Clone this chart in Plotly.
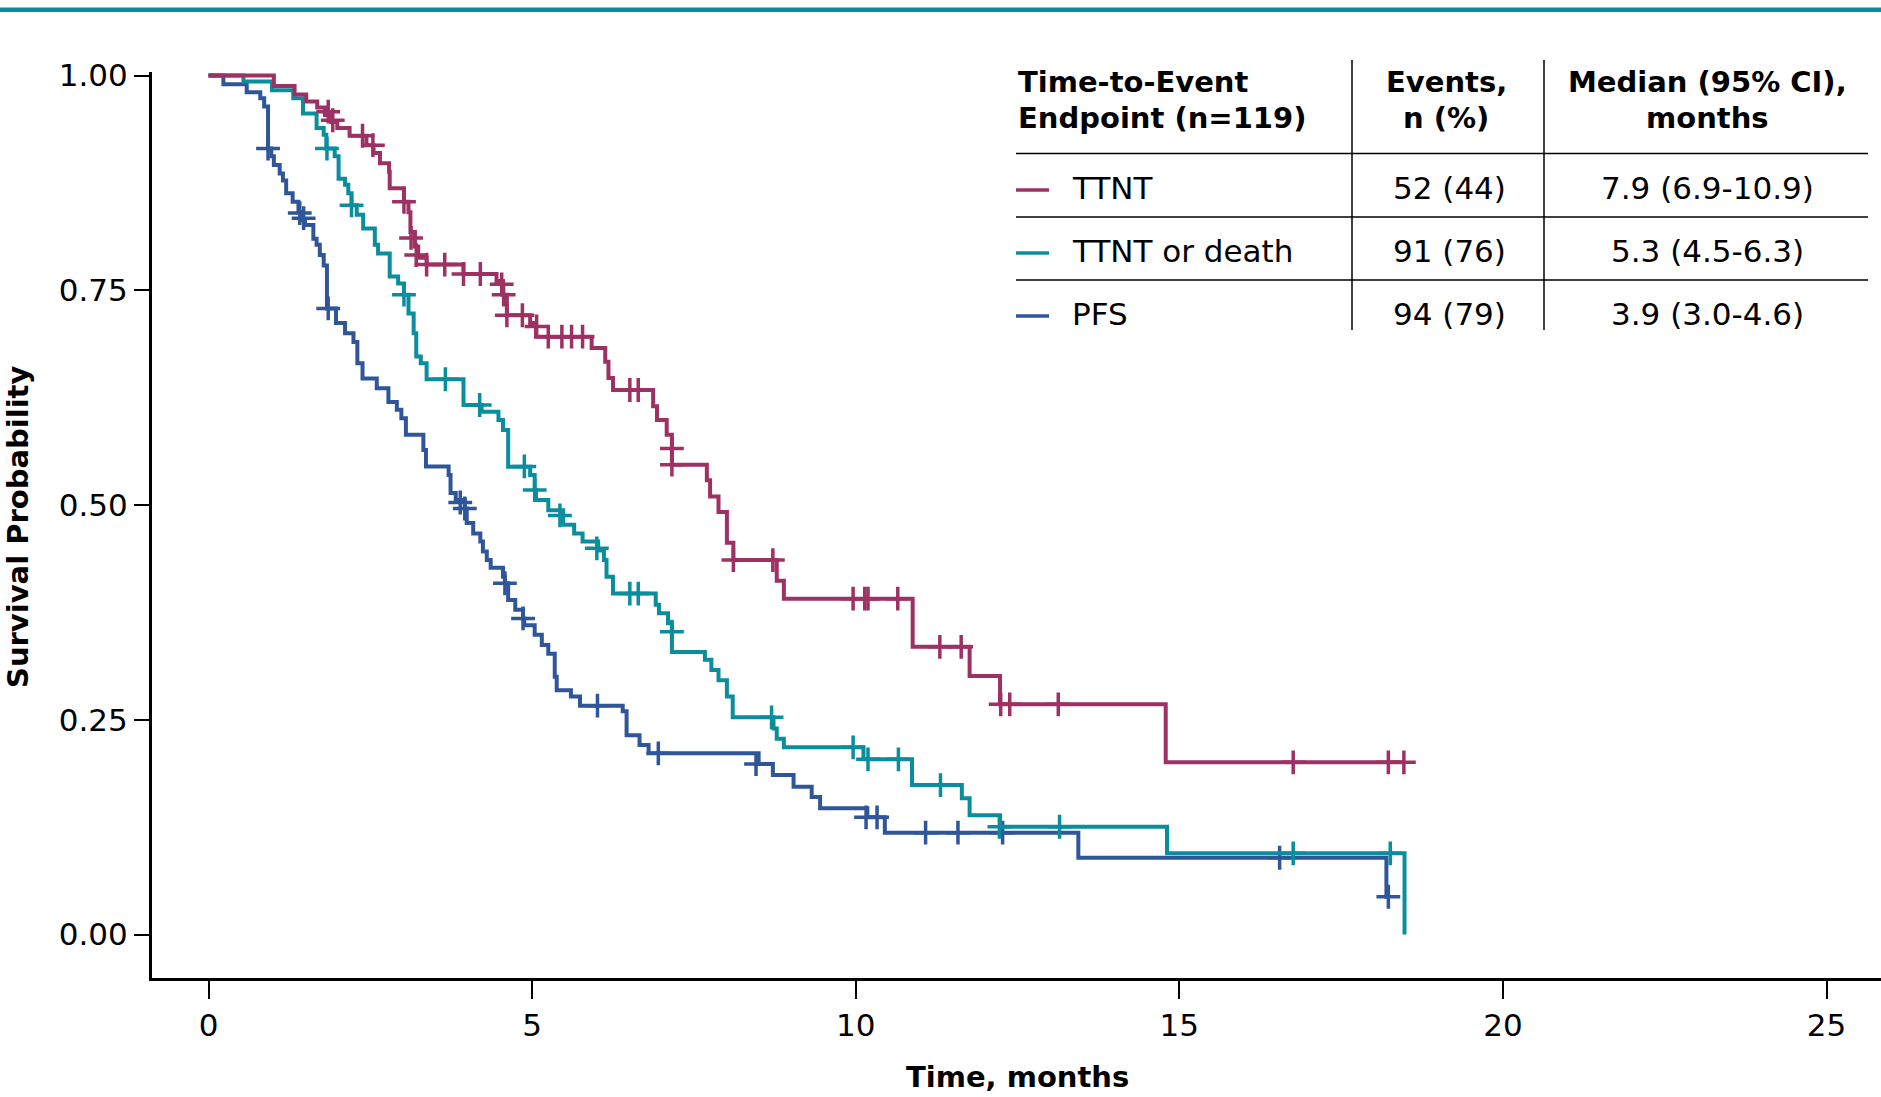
import plotly.graph_objects as go

# ---------------- data ----------------
# Kaplan-Meier step vertices: time (months) of each drop and survival after it
ttnt_t = [0, 1.01, 1.33, 1.51, 1.68, 1.80, 1.90, 1.99, 2.18, 2.44, 2.55, 2.65, 2.79, 2.80,
          3.02, 3.09, 3.12, 3.19, 3.24, 3.37, 3.94, 4.45, 4.55, 4.61, 4.97, 5.06, 5.92,
          6.13, 6.18, 6.25, 6.87, 6.93, 7.08, 7.16, 7.70, 7.75, 7.88, 8.01, 8.11, 8.78,
          8.89, 10.88, 11.76, 12.23, 14.79, 18.47]
ttnt_s = [1.0, 0.988, 0.978, 0.970, 0.963, 0.954, 0.946, 0.939, 0.930, 0.919, 0.910, 0.898,
          0.888, 0.869, 0.853, 0.841, 0.818, 0.801, 0.788, 0.780, 0.769, 0.761, 0.745, 0.721,
          0.712, 0.696, 0.683, 0.667, 0.648, 0.634, 0.615, 0.599, 0.582, 0.547, 0.529, 0.510,
          0.492, 0.456, 0.436, 0.412, 0.391, 0.335, 0.301, 0.268, 0.2005, 0.2005]
ttnt_cens_t = [1.85, 1.92, 2.38, 2.54, 3.02, 3.13, 3.21, 3.37, 3.65, 3.94, 4.20, 4.53, 4.56,
               4.61, 4.85, 5.07, 5.25, 5.46, 5.61, 5.78, 6.51, 6.64, 7.16, 7.16, 8.11, 8.72,
               9.96, 10.14, 10.19, 10.65, 11.30, 11.63, 12.24, 12.38, 13.13, 16.76, 18.23, 18.47]
ttnt_cens_s = [0.958, 0.948, 0.930, 0.919, 0.853, 0.811, 0.791, 0.780, 0.780, 0.769, 0.769,
               0.757, 0.745, 0.721, 0.721, 0.708, 0.696, 0.696, 0.696, 0.696, 0.634, 0.634,
               0.566, 0.547, 0.436, 0.436, 0.391, 0.391, 0.391, 0.391, 0.335, 0.335, 0.268,
               0.268, 0.268, 0.2005, 0.2005, 0.2005]

death_t = [0, 0.54, 0.98, 1.31, 1.46, 1.67, 1.78, 1.82, 1.95, 2.01, 2.11, 2.16, 2.21, 2.29,
           2.39, 2.57, 2.62, 2.80, 2.93, 3.02, 3.09, 3.17, 3.21, 3.28, 3.37, 3.94, 4.22, 4.48,
           4.55, 4.63, 4.97, 5.04, 5.06, 5.25, 5.48, 5.65, 5.78, 6.02, 6.11, 6.15, 6.25, 6.91,
           6.96, 7.10, 7.16, 7.67, 7.77, 7.88, 8.01, 8.10, 8.73, 8.78, 8.89, 10.12, 10.87,
           11.64, 11.76, 12.23, 14.81, 18.48]
death_s = [1.0, 0.993, 0.983, 0.9735, 0.956, 0.939, 0.931, 0.915, 0.906, 0.880, 0.873, 0.863,
           0.849, 0.838, 0.822, 0.803, 0.793, 0.766, 0.758, 0.745, 0.723, 0.700, 0.673, 0.665,
           0.6465, 0.6165, 0.6086, 0.599, 0.5875, 0.5447, 0.535, 0.5175, 0.506, 0.494, 0.477,
           0.467, 0.4575, 0.447, 0.436, 0.4166, 0.397, 0.384, 0.374, 0.3625, 0.329, 0.320,
           0.308, 0.296, 0.277, 0.2529, 0.240, 0.228, 0.218, 0.204, 0.174, 0.1586, 0.139,
           0.1255, 0.0945, 0.0]
death_cens_t = [1.83, 2.21, 3.02, 3.66, 4.19, 4.88, 5.04, 5.43, 6.00, 6.51, 6.64, 7.16, 8.70,
                9.96, 10.19, 10.66, 11.31, 12.22, 13.15, 16.76, 18.26]
death_cens_s = [0.915, 0.849, 0.745, 0.6465, 0.6165, 0.545, 0.5175, 0.488, 0.4497, 0.397,
                0.397, 0.3526, 0.2529, 0.218, 0.204, 0.204, 0.174, 0.1255, 0.1255, 0.0945,
                0.0945]

pfs_t = [0, 0.23, 0.59, 0.80, 0.86, 0.92, 0.97, 1.01, 1.10, 1.15, 1.20, 1.30, 1.39, 1.44, 1.49,
         1.62, 1.67, 1.72, 1.78, 1.83, 1.97, 2.11, 2.24, 2.30, 2.38, 2.60, 2.78, 2.91, 2.98,
         3.05, 3.32, 3.36, 3.71, 3.74, 3.82, 3.96, 3.99, 4.09, 4.20, 4.24, 4.30, 4.36, 4.55,
         4.58, 4.63, 4.74, 4.86, 4.88, 5.04, 5.15, 5.25, 5.35, 5.38, 5.60, 5.74, 6.40, 6.46,
         6.66, 6.80, 8.50, 8.72, 9.04, 9.32, 9.45, 10.18, 10.45, 13.44, 18.20, 18.23]
pfs_s = [1.0, 0.990, 0.9805, 0.9735, 0.964, 0.915, 0.906, 0.896, 0.886, 0.878, 0.863, 0.853,
         0.841, 0.832, 0.826, 0.810, 0.803, 0.791, 0.779, 0.729, 0.712, 0.700, 0.690, 0.665,
         0.6475, 0.636, 0.620, 0.611, 0.601, 0.582, 0.564, 0.545, 0.535, 0.514, 0.506, 0.496,
         0.479, 0.467, 0.4575, 0.446, 0.436, 0.427, 0.4166, 0.409, 0.3895, 0.378, 0.368, 0.360,
         0.349, 0.337, 0.327, 0.300, 0.2845, 0.277, 0.2665, 0.260, 0.232, 0.2207, 0.211,
         0.1985, 0.1857, 0.172, 0.160, 0.147, 0.1365, 0.1186, 0.0894, 0.044, 0.044]
pfs_cens_t = [0.92, 1.41, 1.47, 1.85, 3.89, 3.96, 4.58, 4.86, 6.01, 6.95, 8.46, 10.16, 10.33,
              11.08, 11.58, 12.27, 16.55, 18.23]
pfs_cens_s = [0.915, 0.840, 0.834, 0.729, 0.503, 0.496, 0.409, 0.368, 0.2665, 0.211, 0.1985,
              0.1365, 0.1365, 0.1186, 0.1186, 0.1186, 0.0894, 0.044]

# table content
endpoints = ["TTNT", "TTNT or death", "PFS"]
events = ["52 (44)", "91 (76)", "94 (79)"]
medians = ["7.9 (6.9-10.9)", "5.3 (4.5-6.3)", "3.9 (3.0-4.6)"]
colors = ["#9E3163", "#0A8E9D", "#2F5698"]

x_ticks = [0, 5, 10, 15, 20, 25]
y_ticks = [0.0, 0.25, 0.5, 0.75, 1.0]

# ---------------- figure ----------------
W, H = 1881, 1097
L, R, T, B = 152, 0, 72, 119
PW, PH = W - L - R, H - T - B


def px(x):
    return (x - L) / PW


def py(y):
    return (H - B - y) / PH


FONT = "DejaVu Sans"
fig = go.Figure()

series = [
    (pfs_t, pfs_s, pfs_cens_t, pfs_cens_s, colors[2], "PFS"),
    (death_t, death_s, death_cens_t, death_cens_s, colors[1], "TTNT or death"),
    (ttnt_t, ttnt_s, ttnt_cens_t, ttnt_cens_s, colors[0], "TTNT"),
]
for t, s, ct, cs, col, name in series:
    fig.add_trace(go.Scatter(x=t, y=s, mode="lines", line=dict(color=col, width=4, shape="hv"),
                             name=name, showlegend=False, hoverinfo="skip"))
    fig.add_trace(go.Scatter(x=ct, y=cs, mode="markers", name=name + " censored", showlegend=False,
                             marker=dict(symbol="cross-thin", size=17, color=col,
                                         line=dict(color=col, width=3.5)),
                             cliponaxis=False, hoverinfo="skip"))

fig.update_xaxes(range=[-0.873, 25.842], tickvals=x_ticks, showgrid=False, zeroline=False,
                 showline=True, linewidth=3, linecolor="black", ticks="outside", ticklen=18,
                 tickwidth=1.5, tickcolor="black", tickfont=dict(family=FONT, size=31, color="black"))
fig.update_yaxes(range=[-0.0506, 1.0042], tickvals=y_ticks, tickformat=".2f", showgrid=False,
                 zeroline=False, showline=True, linewidth=3, linecolor="black", ticks="outside",
                 ticklen=15, tickwidth=1.5, tickcolor="black",
                 tickfont=dict(family=FONT, size=31, color="black"))

ann = []
bold = dict(family=FONT, size=29, color="black")
reg = dict(family=FONT, size=31, color="black")
ann.append(dict(text="<b>Survival Probability</b>", x=px(18), y=py(527), xref="paper", yref="paper",
                textangle=-90, xanchor="center", yanchor="middle", showarrow=False, font=bold))
ann.append(dict(text="<b>Time, months</b>", x=px(1017), y=py(1077), xref="paper", yref="paper",
                xanchor="center", yanchor="middle", showarrow=False, font=bold))

hdr = [("Time-to-Event", "Endpoint (n=119)", 1016, "left"),
       ("Events,", "n (%)", 1446, "center"),
       ("Median (95% CI),", "months", 1707, "center")]
for l1, l2, x, anc in hdr:
    for txt, y in ((l1, 82), (l2, 118)):
        ann.append(dict(text="<b>" + txt + "</b>", x=px(x), y=py(y), xref="paper", yref="paper",
                        xanchor=anc, yanchor="middle", showarrow=False, font=bold))

row_y = [188, 251, 314]
for i in range(3):
    ann.append(dict(text=endpoints[i], x=px(1070), y=py(row_y[i]), xref="paper", yref="paper",
                    xanchor="left", yanchor="middle", showarrow=False, font=reg))
    ann.append(dict(text=events[i], x=px(1449), y=py(row_y[i]), xref="paper", yref="paper",
                    xanchor="center", yanchor="middle", showarrow=False, font=reg))
    ann.append(dict(text=medians[i], x=px(1707), y=py(row_y[i]), xref="paper", yref="paper",
                    xanchor="center", yanchor="middle", showarrow=False, font=reg))

shapes = []
for x in (1352, 1544):
    shapes.append(dict(type="line", xref="paper", yref="paper", x0=px(x), x1=px(x),
                       y0=py(60), y1=py(330), line=dict(color="black", width=1.5)))
for y in (153.5, 217, 280):
    shapes.append(dict(type="line", xref="paper", yref="paper", x0=px(1016), x1=px(1868),
                       y0=py(y), y1=py(y), line=dict(color="black", width=1.5)))
for i in range(3):
    shapes.append(dict(type="line", xref="paper", yref="paper", x0=px(1016), x1=px(1049),
                       y0=py(row_y[i] + 2), y1=py(row_y[i] + 2),
                       line=dict(color=colors[i], width=3.5)))
# teal rule at the top of the page
shapes.append(dict(type="rect", xref="paper", yref="paper", x0=px(0), x1=px(W),
                   y0=py(12), y1=py(7.5), line=dict(width=0), fillcolor="#0B8A9B"))

fig.update_layout(width=W, height=H, margin=dict(l=L, r=R, t=T, b=B, pad=0),
                  paper_bgcolor="white", plot_bgcolor="white", annotations=ann, shapes=shapes,
                  showlegend=False, font=dict(family=FONT, color="black"))

fig.write_html("out.html")
